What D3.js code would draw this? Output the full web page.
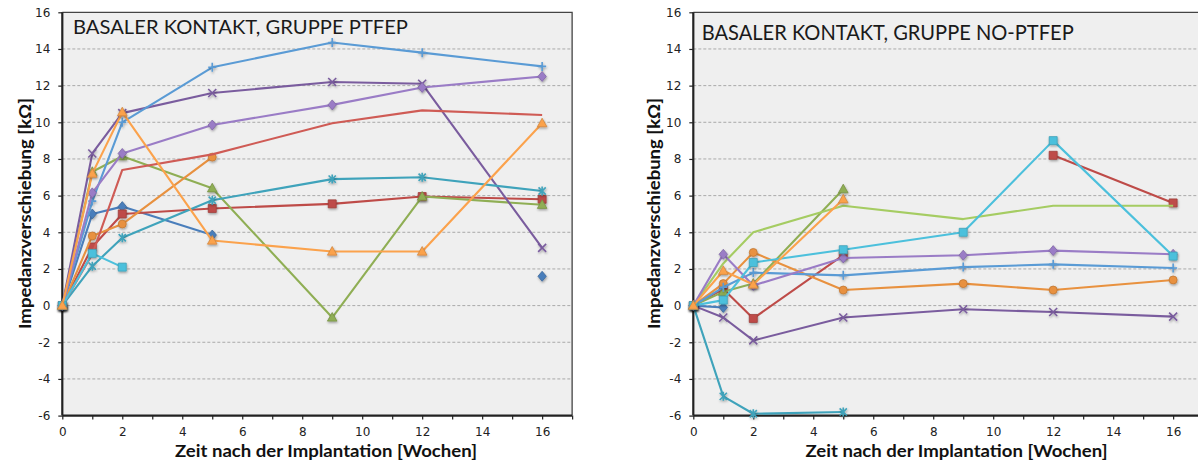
<!DOCTYPE html>
<html>
<head>
<meta charset="utf-8">
<script src="https://cdn.jsdelivr.net/npm/d3@7"></script>
<style>
  html, body { margin: 0; padding: 0; background: #ffffff; }
  svg { display: block; }
</style>
</head>
<body>
<svg id="chart" width="1198" height="463"></svg>
<script>
// Measurement weeks after implantation
const weeks = [0, 1, 2, 5, 9, 12, 16];

// Impedance shift [kΩ], group PTFEP (one array per electrode)
const ptfepBlueDiamond     = [0, 5.0, 5.4, 3.85, null, null, 1.6];
const ptfepRedSquare       = [0, 3.2, 5.0, 5.3, 5.55, 5.95, 5.8];
const ptfepGreenTriangle   = [0, 7.3, 8.15, 6.4, -0.65, 5.95, 5.5];
const ptfepPurpleCross     = [0, 8.3, 10.5, 11.6, 12.2, 12.1, 3.15];
const ptfepAquaStar        = [0, 2.15, 3.7, 5.75, 6.9, 7.0, 6.25];
const ptfepOrangeCircle    = [0, 3.8, 4.45, 8.1, null, null, null];
const ptfepBluePlus        = [0, 5.7, 10.0, 13.0, 14.35, 13.8, 13.05];
const ptfepRedDash         = [0, 2.8, 7.4, 8.25, 9.95, 10.65, 10.4];
const ptfepGreenDash       = [1.2, null, null, null, null, null, null];
const ptfepLilacDiamond    = [0, 6.15, 8.3, 9.85, 10.95, 11.9, 12.5];
const ptfepCyanSquare      = [0, 2.85, 2.1, null, null, null, null];
const ptfepOrangeTriangle  = [0, 7.2, 10.55, 3.55, 2.95, 2.95, 9.95];

// Impedance shift [kΩ], group NO-PTFEP
const noBlueDiamond     = [0, -0.1, null, null, null, null, null];
const noRedSquare       = [0, 0.9, -0.7, 2.75, null, 8.2, 5.6];
const noGreenTriangle   = [0, 0.75, 1.2, 6.35, null, null, null];
const noPurpleCross     = [0, -0.65, -1.9, -0.65, -0.2, -0.35, -0.6];
const noAquaStar        = [0, -4.95, -5.9, -5.8, null, null, null];
const noOrangeCircle    = [0, 1.2, 2.9, 0.85, 1.2, 0.85, 1.4];
const noBluePlus        = [0, 1.0, 1.8, 1.65, 2.1, 2.25, 2.05];
const noRedDash         = [null, null, null, null, null, null, null];
const noGreenDash       = [0, 2.3, 4.0, 5.45, 4.72, 5.45, 5.45];
const noLilacDiamond    = [0, 2.8, 1.1, 2.6, 2.75, 3.0, 2.8];
const noCyanSquare      = [0, 0.3, 2.35, 3.05, 4.0, 9.0, 2.7];
const noOrangeTriangle  = [0, 1.9, 1.15, 5.8, null, null, null];

// Axis ticks
const yTickValues = [-6, -4, -2, 0, 2, 4, 6, 8, 10, 12, 14, 16];
const xTickValues = [0, 2, 4, 6, 8, 10, 12, 14, 16];

// Titles and axis labels
const titleLeft = "BASALER KONTAKT, GRUPPE PTFEP";
const titleRight = "BASALER KONTAKT, GRUPPE NO-PTFEP";
const yLabel = "Impedanzverschiebung [kΩ]";
const xLabel = "Zeit nach der Implantation [Wochen]";

// Series look (colour + marker), shared by both panels
const seriesStyles = [
  { color: "#4a7ebb", marker: "diamond" },
  { color: "#be4b48", marker: "square" },
  { color: "#8fae54", marker: "triangle" },
  { color: "#7a5c9e", marker: "x" },
  { color: "#3fa3bb", marker: "star" },
  { color: "#e8913f", marker: "circle" },
  { color: "#5a9bd5", marker: "plus" },
  { color: "#cf5b55", marker: "dash" },
  { color: "#a5cc62", marker: "dash" },
  { color: "#9a7cc6", marker: "diamond" },
  { color: "#4cc0dc", marker: "square" },
  { color: "#fba24c", marker: "triangle" }
];

const ptfepSeries = [ptfepBlueDiamond, ptfepRedSquare, ptfepGreenTriangle, ptfepPurpleCross,
  ptfepAquaStar, ptfepOrangeCircle, ptfepBluePlus, ptfepRedDash, ptfepGreenDash,
  ptfepLilacDiamond, ptfepCyanSquare, ptfepOrangeTriangle];
const noSeries = [noBlueDiamond, noRedSquare, noGreenTriangle, noPurpleCross,
  noAquaStar, noOrangeCircle, noBluePlus, noRedDash, noGreenDash,
  noLilacDiamond, noCyanSquare, noOrangeTriangle];

const svg = d3.select("#chart");

// soft shadow under markers
const defs = svg.append("defs");
const f = defs.append("filter").attr("id", "mshadow")
  .attr("x", "-50%").attr("y", "-50%").attr("width", "200%").attr("height", "200%");
f.append("feDropShadow").attr("dx", 0.6).attr("dy", 1.4)
  .attr("stdDeviation", 1).attr("flood-color", "#000").attr("flood-opacity", 0.35);

function markerPath(type) {
  switch (type) {
    case "diamond": return "M0,-5L4.2,0L0,5L-4.2,0Z";
    case "square": return "M-4,-4H4V4H-4Z";
    case "triangle": return "M0,-5L4.8,3.6H-4.8Z";
    case "circle": return d3.symbol(d3.symbolCircle, 50)();
    case "x": return "M-4,-4L4,4M-4,4L4,-4";
    case "star": return "M-3.6,-3.6L3.6,3.6M-3.6,3.6L3.6,-3.6M0,-4.5V4.5";
    case "plus": return "M-4,0H4M0,-4.5V4.5";
    case "dash": return "M-5.5,0H4.5";
  }
}
const strokeOnly = new Set(["x", "star", "plus", "dash"]);

function drawPanel(opts) {
  const x = d3.scaleLinear().domain([0, 17]).range([opts.x0, opts.x0 + 17 * 29.99]);
  const y = d3.scaleLinear().domain([-6, 16]).range([415.6, 12.3]);
  const g = svg.append("g");

  // plot area
  g.append("rect")
    .attr("x", x(0)).attr("y", y(16))
    .attr("width", x(17) - x(0)).attr("height", y(-6) - y(16))
    .attr("fill", "#efefef");

  // gridlines
  g.append("g").selectAll("line")
    .data(yTickValues.filter(v => v > -6 && v < 16))
    .join("line")
    .attr("x1", x(0)).attr("x2", x(17))
    .attr("y1", d => y(d)).attr("y2", d => y(d))
    .attr("stroke", "#a9a9a9").attr("stroke-width", 1)
    .attr("stroke-dasharray", "3,2");

  // frame (top & right)
  g.append("path")
    .attr("d", `M${x(0)},${y(16)}H${x(17)}V${y(-6)}`)
    .attr("fill", "none").attr("stroke", "#444").attr("stroke-width", 1.3);

  // axes
  const yAxis = d3.axisLeft(y).tickValues(yTickValues).tickSize(4).tickPadding(8)
    .tickFormat(d => String(d));
  const ya = g.append("g").attr("transform", `translate(${x(0)},0)`).call(yAxis);
  const xAxis = d3.axisBottom(x).tickValues(d3.range(0, 18, 1)).tickSize(4).tickPadding(8)
    .tickFormat(d => xTickValues.includes(d) ? String(d) : "");
  const xa = g.append("g").attr("transform", `translate(0,${y(-6)})`).call(xAxis);
  [ya, xa].forEach(a => {
    a.select(".domain").attr("stroke", "#222").attr("stroke-width", 2.2);
    a.selectAll(".tick line").attr("stroke", "#222").attr("stroke-width", 1.2);
    a.selectAll("text").attr("font-family", "DejaVu Sans, sans-serif")
      .attr("font-size", 12).attr("fill", "#222");
  });
  ya.select(".domain").attr("d", `M0,${y(16)}V${y(-6)}`);
  xa.select(".domain").attr("d", `M${x(0)},0H${x(17)}`);

  // series lines and markers
  const line = d3.line()
    .defined(d => d.v != null)
    .x(d => x(d.w)).y(d => y(d.v));

  opts.series.forEach((vals, i) => {
    const st = seriesStyles[i];
    const pts = weeks.map((w, k) => ({ w, v: vals[k] }));
    const sg = g.append("g");
    sg.append("path").datum(pts)
      .attr("d", line)
      .attr("fill", "none").attr("stroke", st.color)
      .attr("stroke-width", 2.1).attr("stroke-linejoin", "round");
    const isStroke = strokeOnly.has(st.marker);
    sg.selectAll("path.m").data(pts.filter(p => p.v != null)).join("path")
      .attr("class", "m")
      .attr("transform", p => `translate(${x(p.w)},${y(p.v)})`)
      .attr("d", markerPath(st.marker))
      .attr("fill", isStroke ? "none" : st.color)
      .attr("stroke", isStroke ? st.color : d3.color(st.color).darker(0.5))
      .attr("stroke-width", st.marker === "dash" ? 2.8 : (isStroke ? 1.6 : 0.8))
      .attr("filter", "url(#mshadow)");
  });

  // title
  g.append("text")
    .attr("x", opts.titleX).attr("y", opts.titleY)
    .attr("font-family", "Lato, 'Open Sans', sans-serif")
    .attr("font-size", opts.titleSize).attr("fill", "#1a1a1a")
    .attr("textLength", opts.titleLen).attr("lengthAdjust", "spacingAndGlyphs")
    .text(opts.title);

  // axis labels
  g.append("text")
    .attr("transform", `translate(${opts.yLabelX},213.5) rotate(-90)`)
    .attr("text-anchor", "middle").attr("dominant-baseline", "central")
    .attr("font-family", "Lato, 'Open Sans', sans-serif").attr("font-weight", "bold")
    .attr("font-size", 17).attr("fill", "#111")
    .attr("textLength", 231).attr("lengthAdjust", "spacingAndGlyphs")
    .text(yLabel);
  g.append("text")
    .attr("x", opts.xLabelX).attr("y", 457)
    .attr("text-anchor", "middle")
    .attr("font-family", "Lato, 'Open Sans', sans-serif").attr("font-weight", "bold")
    .attr("font-size", 17).attr("fill", "#111")
    .attr("textLength", 302).attr("lengthAdjust", "spacingAndGlyphs")
    .text(xLabel);
}

drawPanel({
  x0: 62.3, series: ptfepSeries,
  title: titleLeft, titleX: 73, titleY: 34.3, titleSize: 20, titleLen: 335,
  yLabelX: 24.5, xLabelX: 326
});
drawPanel({
  x0: 693.3, series: noSeries,
  title: titleRight, titleX: 701.7, titleY: 39.5, titleSize: 21, titleLen: 372,
  yLabelX: 653.5, xLabelX: 956.5
});
</script>
</body>
</html>
